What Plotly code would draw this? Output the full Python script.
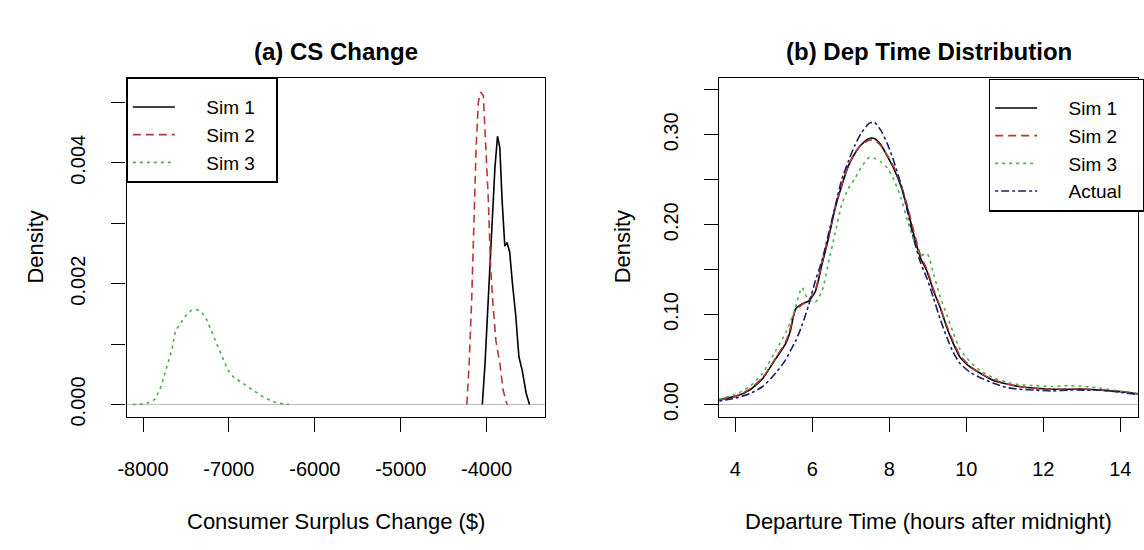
import plotly.graph_objects as go

# ---------------- data: panel (a) consumer surplus change ----------------
cs_sim1_x = [-4050, -4018, -3980, -3942, -3903, -3873, -3846, -3820, -3788, -3762,
             -3731, -3701, -3662, -3624, -3586, -3540, -3501]
cs_sim1_y = [0, 0.00068, 0.00176, 0.00295, 0.00392, 0.00444, 0.00425, 0.00339, 0.00262,
             0.00268, 0.00252, 0.00203, 0.00149, 0.00079, 0.00057, 0.00019, 0]

cs_sim2_x = [-4230, -4203, -4173, -4142, -4122, -4096, -4069, -4038, -4007, -3980,
             -3954, -3931, -3892, -3846, -3808, -3762]
cs_sim2_y = [0, 0.00068, 0.00176, 0.00339, 0.00425, 0.00501, 0.00517, 0.00511, 0.0043,
             0.00339, 0.0023, 0.00176, 0.00106, 0.00068, 0.00024, 0]

cs_sim3_x = [-8120, -7980, -7895, -7853, -7790, -7728, -7665, -7623, -7560, -7497, -7434,
             -7372, -7330, -7267, -7205, -7141, -7079, -7016, -6953, -6869, -6785, -6702,
             -6618, -6534, -6450, -6366, -6300]
cs_sim3_y = [0, 0.00001, 0.00005, 0.0001, 0.0003, 0.00058, 0.0009, 0.00122, 0.00136,
             0.00148, 0.00156, 0.00157, 0.00155, 0.00143, 0.00122, 0.001, 0.0008, 0.00058,
             0.00046, 0.00038, 0.0003, 0.00022, 0.00014, 0.00008, 0.00003, 0.00001, 0]

cs_xticks = [-8000, -7000, -6000, -5000, -4000]
cs_xtext = ["-8000", "-7000", "-6000", "-5000", "-4000"]
cs_yticks = [0, 0.001, 0.002, 0.003, 0.004, 0.005]
cs_ytext = ["0.000", "", "0.002", "", "0.004", ""]

# ---------------- data: panel (b) departure time distribution ----------------
dep_x = [3.58, 4.0, 4.37, 4.71, 5.05, 5.31, 5.43, 5.56, 5.73, 5.90, 6.08, 6.25, 6.42, 6.59,
         6.76, 6.93, 7.10, 7.27, 7.48, 7.61, 7.78, 7.95, 8.12, 8.30, 8.47, 8.64, 8.81, 8.98,
         9.15, 9.32, 9.49, 9.66, 9.83, 10.09, 10.35, 10.69, 11.03, 11.37, 11.80, 12.22,
         12.65, 13.08, 13.50, 13.93, 14.46]
dep_sim1 = [0.0055, 0.009, 0.016, 0.029, 0.051, 0.068, 0.082, 0.106, 0.112, 0.115, 0.126,
            0.156, 0.185, 0.218, 0.243, 0.265, 0.279, 0.289, 0.296, 0.296, 0.289, 0.276,
            0.262, 0.243, 0.218, 0.188, 0.163, 0.148, 0.126, 0.108, 0.086, 0.068, 0.053,
            0.042, 0.035, 0.027, 0.023, 0.020, 0.018, 0.017, 0.017, 0.017, 0.016, 0.0146,
            0.0117]
dep_sim2 = [0.005, 0.009, 0.017, 0.030, 0.052, 0.070, 0.085, 0.105, 0.111, 0.116, 0.128,
            0.158, 0.187, 0.219, 0.244, 0.265, 0.280, 0.289, 0.294, 0.294, 0.288, 0.277,
            0.264, 0.245, 0.221, 0.192, 0.166, 0.150, 0.128, 0.109, 0.088, 0.070, 0.055,
            0.043, 0.035, 0.028, 0.023, 0.020, 0.018, 0.017, 0.017, 0.017, 0.016, 0.015,
            0.012]
dep_sim3 = [0.006, 0.011, 0.020, 0.035, 0.060, 0.080, 0.092, 0.108, 0.130, 0.116, 0.114,
            0.126, 0.158, 0.190, 0.222, 0.240, 0.251, 0.264, 0.275, 0.274, 0.270, 0.263,
            0.250, 0.230, 0.205, 0.182, 0.166, 0.168, 0.145, 0.120, 0.100, 0.080, 0.062,
            0.048, 0.038, 0.030, 0.025, 0.022, 0.021, 0.020, 0.021, 0.020, 0.018, 0.015,
            0.012]
dep_actual = [0.004, 0.007, 0.012, 0.020, 0.035, 0.050, 0.060, 0.070, 0.088, 0.110, 0.138,
              0.160, 0.190, 0.220, 0.250, 0.270, 0.288, 0.302, 0.313, 0.314, 0.305, 0.290,
              0.270, 0.245, 0.215, 0.183, 0.158, 0.140, 0.118, 0.095, 0.075, 0.058, 0.046,
              0.036, 0.030, 0.024, 0.019, 0.017, 0.016, 0.015, 0.016, 0.016, 0.016, 0.014,
              0.011]

dep_xticks = [4, 6, 8, 10, 12, 14]
dep_yticks = [0, 0.05, 0.10, 0.15, 0.20, 0.25, 0.30, 0.35]
dep_ytext = ["0.00", "", "0.10", "", "0.20", "", "0.30", ""]

series_names = ["Sim 1", "Sim 2", "Sim 3", "Actual"]

# ---------------- styling ----------------
W, H = 1144, 550
FONT = "Liberation Sans, Arial, sans-serif"
C_BLACK = "#000000"
C_RED = "#b23a3a"
C_GREEN = "#4fae4f"
C_NAVY = "#1f1f66"
LW = 1.6
PAD = "\u00a0"


def px_x(p):
    return p / W


def px_y(p):
    return 1 - p / H


def legend_label(name):
    return PAD * 5 + name + PAD * 3


fig = go.Figure()

# panel (a)
fig.add_trace(go.Scatter(x=cs_sim1_x, y=cs_sim1_y, mode="lines",
                         name=legend_label(series_names[0]),
                         line=dict(color=C_BLACK, width=LW), xaxis="x", yaxis="y",
                         legend="legend"))
fig.add_trace(go.Scatter(x=cs_sim2_x, y=cs_sim2_y, mode="lines",
                         name=legend_label(series_names[1]),
                         line=dict(color=C_RED, width=LW, dash="8px,5px"), xaxis="x",
                         yaxis="y", legend="legend"))
fig.add_trace(go.Scatter(x=cs_sim3_x, y=cs_sim3_y, mode="lines",
                         name=legend_label(series_names[2]),
                         line=dict(color=C_GREEN, width=LW, dash="3px,4px"), xaxis="x",
                         yaxis="y", legend="legend"))

# panel (b)
styles_b = [
    (dep_sim1, C_BLACK, "solid"),
    (dep_sim2, C_RED, "8px,5px"),
    (dep_sim3, C_GREEN, "3px,4px"),
    (dep_actual, C_NAVY, "3px,3px,8px,3px"),
]
for name, (ys, col, dash) in zip(series_names, styles_b):
    fig.add_trace(go.Scatter(x=dep_x, y=ys, mode="lines", name=legend_label(name),
                             line=dict(color=col, width=LW, dash=dash, shape="spline",
                                       smoothing=0.6),
                             xaxis="x2", yaxis="y2", legend="legend2"))

ydom = [px_y(424), px_y(79)]
common_axis = dict(showline=True, mirror=True, linecolor="black", linewidth=1.3,
                   showgrid=False, ticks="outside", ticklen=14, tickwidth=1.3,
                   tickcolor="black", tickfont=dict(family=FONT, size=20, color="black"))

legend_common = dict(xanchor="left", yanchor="top", bgcolor="white", bordercolor="black",
                     borderwidth=1.3, font=dict(family=FONT, size=19, color="black"),
                     itemwidth=42, tracegroupgap=0,
                     title=dict(text=PAD, font=dict(family=FONT, size=7)))

fig.update_layout(
    width=W, height=H,
    margin=dict(l=0, r=0, t=0, b=0),
    paper_bgcolor="white", plot_bgcolor="white",
    font=dict(family=FONT, color="black"),
    xaxis=dict(domain=[px_x(119), px_x(543)], range=[-8192, -3316], tickvals=cs_xticks,
               ticktext=cs_xtext, zeroline=False, anchor="y", ticklabelstandoff=20,
               **common_axis),
    yaxis=dict(domain=ydom, range=[-0.000208, 0.005408], tickvals=cs_yticks,
               ticktext=cs_ytext, tickangle=-90, zeroline=True, zerolinecolor="#bebebe",
               zerolinewidth=1.3, anchor="x", ticklabelstandoff=18, **common_axis),
    xaxis2=dict(domain=[px_x(719), px_x(1143)], range=[3.58, 14.46], tickvals=dep_xticks,
                zeroline=False, anchor="y2", ticklabelstandoff=20, **common_axis),
    yaxis2=dict(domain=ydom, range=[-0.014, 0.3636], tickvals=dep_yticks,
                ticktext=dep_ytext, tickangle=-90, zeroline=True, zerolinecolor="#bebebe",
                zerolinewidth=1.3, anchor="x2", ticklabelstandoff=18, **common_axis),
    legend=dict(x=px_x(119), y=px_y(79), **legend_common),
    legend2=dict(x=px_x(992), y=px_y(80), **legend_common),
    showlegend=True,
)

annots = [
    dict(text="<b>(a) CS Change</b>", x=px_x(331), y=px_y(52), size=24, angle=0),
    dict(text="<b>(b) Dep Time Distribution</b>", x=px_x(931), y=px_y(52), size=24, angle=0),
    dict(text="Consumer Surplus Change ($)", x=px_x(331), y=px_y(530), size=22, angle=0),
    dict(text="Departure Time (hours after midnight)", x=px_x(931), y=px_y(530), size=22,
         angle=0),
    dict(text="Density", x=px_x(27), y=px_y(251), size=22, angle=-90),
    dict(text="Density", x=px_x(621), y=px_y(251), size=22, angle=-90),
]
for a in annots:
    fig.add_annotation(text=a["text"], x=a["x"], y=a["y"], xref="paper", yref="paper",
                       xanchor="center", yanchor="middle", showarrow=False,
                       textangle=a["angle"],
                       font=dict(family=FONT, size=a["size"], color="black"))

# remove the default 8px page margin so figure pixels equal page pixels
fig.write_html("out.html",
               config={"displayModeBar": False},
               post_script="document.body.style.margin='0px';"
                           "document.body.style.overflow='hidden';")
